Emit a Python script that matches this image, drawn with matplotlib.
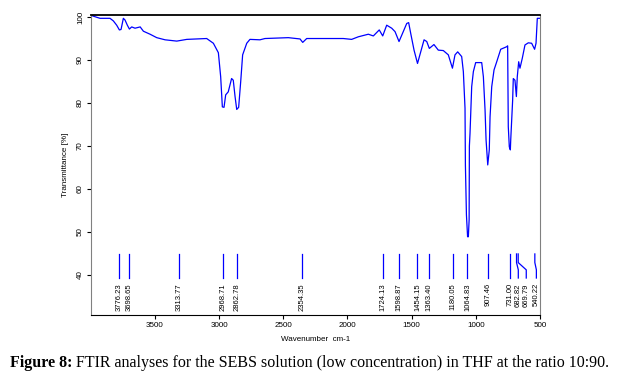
import matplotlib
matplotlib.use("Agg")
import matplotlib.pyplot as plt
import numpy as np

# spectrum (wavenumber cm-1, transmittance %)
wavenumber = [3997, 3979, 3927, 3849, 3823, 3797, 3776, 3763, 3745, 3732, 3714, 3698,
              3680, 3654, 3614, 3589, 3537, 3485, 3420, 3329, 3251, 3096, 3044, 3005,
              2987, 2974, 2961, 2948, 2928, 2902, 2889, 2875, 2862, 2847, 2831, 2816,
              2784, 2759, 2681, 2642, 2460, 2369, 2348, 2317, 2032, 1967, 1915, 1837,
              1798, 1752, 1725, 1694, 1655, 1629, 1598, 1565, 1538, 1523, 1507, 1481,
              1454, 1429, 1403, 1382, 1362, 1326, 1292, 1253, 1214, 1182, 1162, 1141,
              1110, 1097, 1084, 1081, 1073, 1064, 1058, 1052, 1050, 1045, 1032, 1019,
              1001, 954, 941, 928, 920, 907, 895, 889, 876, 858, 837, 806, 759, 752,
              747, 739, 731, 728, 713, 708, 695, 684, 677, 666, 656, 638, 617, 591,
              565, 542, 531, 521, 500]
transmittance = [100.4, 100.2, 99.7, 99.7, 99.1, 98.1, 97.0, 97.1, 99.7, 99.3, 98.1, 97.2,
                 97.7, 97.4, 97.7, 96.7, 96.0, 95.2, 94.7, 94.4, 94.8, 95.0, 93.9, 91.7,
                 86.1, 79.1, 79.0, 81.9, 82.6, 85.7, 85.3, 81.5, 78.5, 79.0, 85.0, 91.2,
                 93.9, 94.8, 94.7, 95.0, 95.2, 94.9, 94.1, 95.0, 95.0, 94.8, 95.4, 96.0,
                 95.6, 97.0, 95.6, 98.1, 97.4, 96.6, 94.3, 96.6, 98.5, 98.7, 96.2, 92.3,
                 89.2, 91.9, 94.7, 94.3, 92.7, 93.6, 92.3, 92.2, 91.2, 88.1, 91.2, 91.9,
                 90.8, 87.3, 78.8, 65.6, 54.0, 48.9, 48.9, 52.8, 70.0, 73.0, 83.8, 87.3,
                 89.4, 89.4, 86.1, 78.4, 71.4, 65.6, 69.1, 76.8, 83.8, 87.7, 89.6, 92.5,
                 93.1, 93.3, 74.5, 69.8, 69.1, 71.4, 80.7, 85.7, 85.3, 81.5, 86.1, 89.6,
                 88.1, 90.4, 93.5, 94.0, 93.9, 92.5, 93.9, 99.7, 99.7]

peak_labels = ["3776.23", "3698.65", "3313.77", "2968.71", "2862.78", "2354.35",
               "1724.13", "1598.87", "1454.15", "1363.40", "1180.05", "1064.83",
               "907.46", "731.00", "682.82", "669.79", "540.22"]
peaks = [float(s) for s in peak_labels]

x_ticks = [3500, 3000, 2500, 2000, 1500, 1000, 500]
y_ticks = [40, 50, 60, 70, 80, 90, 100]

blue = "#0000ff"
plt.rcParams["font.family"] = ["Liberation Sans", "DejaVu Sans"]

fig = plt.figure(figsize=(6.2, 3.84), dpi=100)
ax = fig.add_axes([91 / 620, 1 - 315 / 384, 449 / 620, 300 / 384])

ax.plot(wavenumber, transmittance, color=blue, lw=0.9)

# peak markers, labels pushed apart where they crowd
min_gap = 62
label_pos = []
for p in peaks:
    pos = p
    if label_pos and label_pos[-1] - pos < min_gap:
        pos = label_pos[-1] - min_gap
    label_pos.append(pos)
# last label sits a touch right of its peak, against the frame
label_pos[-1] = peaks[-1] - 12

for p, lp, s in zip(peaks, label_pos, peak_labels):
    if abs(lp - p) < 1:
        ax.plot([p, p], [44.9, 39.3], color=blue, lw=0.9)
    else:
        ax.plot([p, p, lp, lp], [44.9, 42.9, 41.2, 39.3], color=blue, lw=0.9)
    ax.text(lp, 38.1, s, rotation=90, ha="center", va="top", fontsize=5.5)

ax.set_xlim(3997, 500)
ax.set_ylim(30.7, 100.47)
ax.set_xticks(x_ticks)
ax.set_yticks(y_ticks)
ax.tick_params(labelsize=5.8, length=3, width=0.8, pad=2)
for lab in ax.get_yticklabels():
    lab.set_rotation(90)
    lab.set_va("center")

ax.spines["top"].set_color("black")
ax.spines["top"].set_linewidth(1.3)
ax.spines["bottom"].set_color("black")
ax.spines["left"].set_color("#808080")
ax.spines["right"].set_color("#808080")

ax.set_ylabel("Transmittance [%]", fontsize=5.8, labelpad=6)
ax.set_xlabel("Wavenumber  cm-1", fontsize=5.8, labelpad=5)

cap_y = 0.045
t1 = fig.text(0.016, cap_y, "Figure 8:", fontsize=11.5, fontweight="bold",
              family="Liberation Serif", va="baseline")
fig.canvas.draw()
bb = t1.get_window_extent(renderer=fig.canvas.get_renderer())
fig.text(bb.x1 / fig.bbox.width, cap_y,
         " FTIR analyses for the SEBS solution (low concentration) in THF at the ratio 10:90.",
         fontsize=11.5, family="Liberation Serif", va="baseline")

fig.savefig("out.png", dpi=100)
